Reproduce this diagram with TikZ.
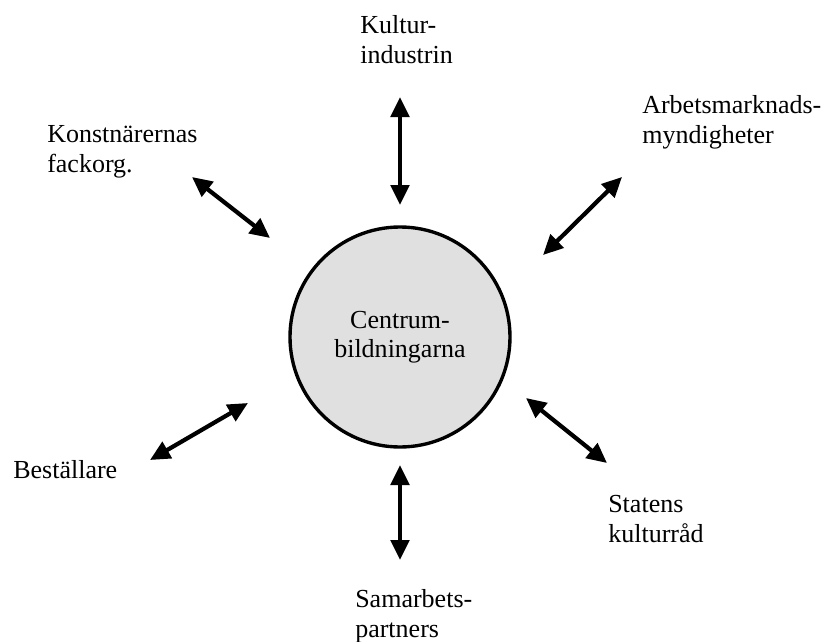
\documentclass[tikz,border=0pt]{standalone}
\usepackage{fontspec, tkz-euclide}
\usetikzlibrary{arrows.meta}
\setmainfont{Liberation Serif}

\tikzset{
  label/.style={inner sep=0pt, align=left, font=\fontsize{18.5}{21.5}\selectfont},
  hub/.style={circle, draw, line width=2.4pt, fill=black!12, minimum size=5.5cm,
    inner sep=0pt, align=center, font=\fontsize{18.5}{21}\selectfont},
  link/.style={{Triangle[length=0.5cm,width=0.46cm]}-{Triangle[length=0.5cm,width=0.46cm]}, line width=3pt}
}

\begin{document}
\begin{tikzpicture}
    \useasboundingbox (0,0) rectangle (20.55,-16.05);
    \node[hub] (centrum) at (10,-8.425) {Centrum-\\bildningarna};
    \node[label, anchor=north west] (kultur) at (9.0,-0.375) {Kultur-\\industrin};
    \node[label, anchor=north west] (konst) at (1.175,-3.125) {Konstnärernas\\fackorg.};
    \node[label, anchor=north west] (arbets) at (16.05,-2.375) {Arbetsmarknads-\\myndigheter};
    \node[label, anchor=base west] (best) at (0.325,-11.95) {Beställare};
    \node[label, anchor=north west] (statens) at (15.2,-12.375) {Statens\\kulturråd};
    \node[label, anchor=north west] (samarb) at (8.875,-14.725) {Samarbets-\\partners};
    \tkzDefPoints{10/-2.425/T1, 10/-5.125/T2, 4.8/-4.425/K1, 6.75/-5.95/K2,
      15.55/-4.425/A1, 13.575/-6.375/A2, 6.2/-10.075/B1, 3.75/-11.5/B2,
      13.15/-9.95/S1, 15.175/-11.575/S2, 10/-11.625/P1, 10/-14.0/P2}
    \draw[link] (T1) -- (T2);
    \draw[link] (K1) -- (K2);
    \draw[link] (A1) -- (A2);
    \draw[link] (B1) -- (B2);
    \draw[link] (S1) -- (S2);
    \draw[link] (P1) -- (P2);
\end{tikzpicture}
\end{document}
